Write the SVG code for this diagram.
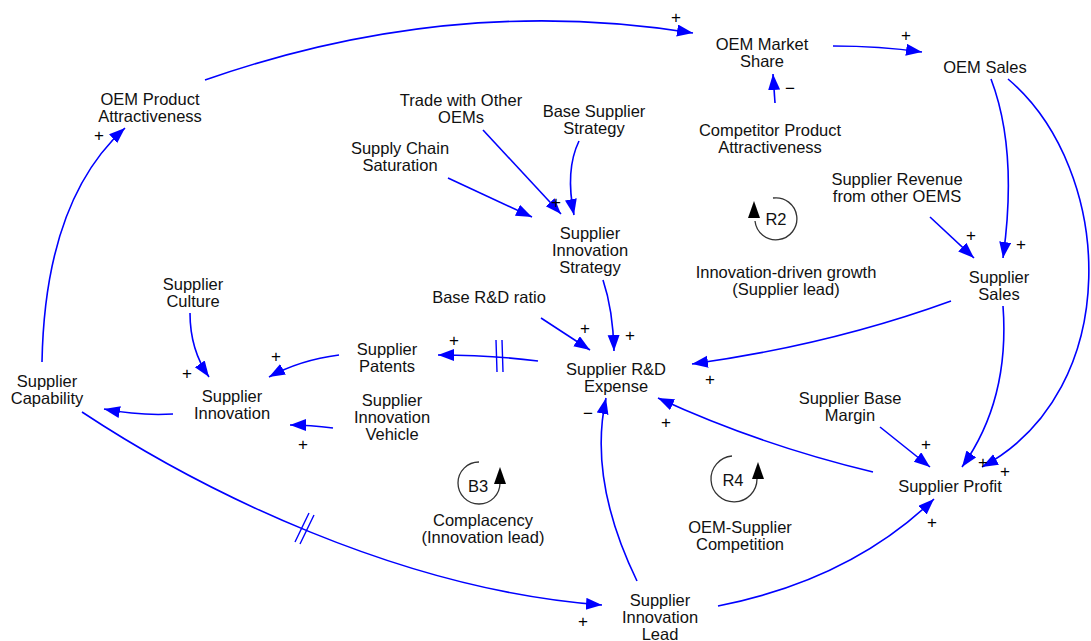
<svg xmlns="http://www.w3.org/2000/svg" width="1091" height="641" viewBox="0 0 1091 641">
  <style>
    text { font-family: "Liberation Sans", Arial, sans-serif; fill: #111; }
    .lbl { font-size: 16.5px; text-anchor: middle; }
    .sign { font-size: 17px; text-anchor: middle; fill: #000; }
    .link { fill: none; stroke: #0000ff; stroke-width: 1.6; marker-end: url(#arrow); }
    .hash { fill: none; stroke: #0000ff; stroke-width: 1.4; }
    .loop { fill: none; stroke: #333; stroke-width: 1.3; }
    .loophead { fill: #000; }
  </style>
  <defs>
    <marker id="arrow" markerUnits="userSpaceOnUse" markerWidth="18" markerHeight="14" refX="16" refY="6" orient="auto">
      <path d="M0,0 L16,6 L0,12 z" fill="#0000ff"/>
    </marker>
  </defs>
  <rect width="1091" height="641" fill="#fff"/>

  <!-- causal links -->
  <g id="connectors">
    <path class="link" d="M42,362 Q45,200 125,128"/>
    <path class="link" d="M205,80 Q451,-6 693,33"/>
    <path class="link" d="M833,46 Q880,46 922,52"/>
    <path class="link" d="M775,103 L773,74"/>
    <path class="link" d="M991,79 Q1018,150 1003,258"/>
    <path class="link" d="M1008,79 C1115,170 1125,390 982,467"/>
    <path class="link" d="M930,217 L974,258"/>
    <path class="link" d="M951,301 Q830,345 692,364"/>
    <path class="link" d="M1003,306 Q1010,400 962,467"/>
    <path class="link" d="M880,427 L930,467"/>
    <path class="link" d="M873,472 Q760,445 658,398"/>
    <path class="link" d="M718,606 Q850,580 934,499"/>
    <path class="link" d="M637,581 Q588,480 606,398"/>
    <path class="link" d="M82,412 C200,490 400,590 602,605"/>
    <path class="link" d="M538,361 Q490,355 438,355"/>
    <path class="link" d="M541,318 L590,350"/>
    <path class="link" d="M603,280 Q613,310 614,351"/>
    <path class="link" d="M448,178 L532,217"/>
    <path class="link" d="M483,130 L561,214"/>
    <path class="link" d="M579,141 Q565,170 574,215"/>
    <path class="link" d="M190,313 Q190,350 209,377"/>
    <path class="link" d="M339,355 Q300,360 269,377"/>
    <path class="link" d="M333,428 Q310,425 290,425"/>
    <path class="link" d="M173,414 Q140,416 104,409"/>
    <!-- delay marks -->
    <path class="hash" d="M496,340 L497,372 M502,340 L503,372"/>
    <path class="hash" d="M295,542 L309,513 M300,544 L314,515"/>
  </g>

  <!-- polarity signs -->
  <g id="signs">
    <text class="sign" x="99" y="141">+</text>
    <text class="sign" x="676" y="23">+</text>
    <text class="sign" x="906" y="41">+</text>
    <text class="sign" x="790" y="94">−</text>
    <text class="sign" x="1021" y="250">+</text>
    <text class="sign" x="971" y="241">+</text>
    <text class="sign" x="710" y="385">+</text>
    <text class="sign" x="983" y="468">+</text>
    <text class="sign" x="1005" y="477">+</text>
    <text class="sign" x="926" y="450">+</text>
    <text class="sign" x="666" y="428">+</text>
    <text class="sign" x="932" y="528">+</text>
    <text class="sign" x="588" y="419">−</text>
    <text class="sign" x="583" y="627">+</text>
    <text class="sign" x="454" y="346">+</text>
    <text class="sign" x="585" y="334">+</text>
    <text class="sign" x="630" y="341">+</text>
    <text class="sign" x="556" y="208">+</text>
    <text class="sign" x="187" y="379">+</text>
    <text class="sign" x="276" y="362">+</text>
    <text class="sign" x="303" y="450">+</text>
  </g>

  <!-- variables -->
  <g id="oem-product-attractiveness"><text class="lbl" x="150" y="105">OEM Product<tspan x="150" dy="17">Attractiveness</tspan></text></g>
  <g id="oem-market-share"><text class="lbl" x="762" y="50">OEM Market<tspan x="762" dy="17">Share</tspan></text></g>
  <g id="oem-sales"><text class="lbl" x="985" y="73">OEM Sales</text></g>
  <g id="competitor-product-attractiveness"><text class="lbl" x="770" y="136">Competitor Product<tspan x="770" dy="17">Attractiveness</tspan></text></g>
  <g id="supplier-revenue-other"><text class="lbl" x="897" y="185">Supplier Revenue<tspan x="897" dy="17">from other OEMS</tspan></text></g>
  <g id="trade-other-oems"><text class="lbl" x="461" y="106">Trade with Other<tspan x="461" dy="17">OEMs</tspan></text></g>
  <g id="base-supplier-strategy"><text class="lbl" x="594" y="117">Base Supplier<tspan x="594" dy="17">Strategy</tspan></text></g>
  <g id="supply-chain-saturation"><text class="lbl" x="400" y="154">Supply Chain<tspan x="400" dy="17">Saturation</tspan></text></g>
  <g id="supplier-innovation-strategy"><text class="lbl" x="590" y="239">Supplier<tspan x="590" dy="17">Innovation</tspan><tspan x="590" dy="17">Strategy</tspan></text></g>
  <g id="base-rd-ratio"><text class="lbl" x="489" y="303">Base R&amp;D ratio</text></g>
  <g id="supplier-rd-expense"><text class="lbl" x="616" y="375">Supplier R&amp;D<tspan x="616" dy="17">Expense</tspan></text></g>
  <g id="supplier-patents"><text class="lbl" x="387" y="355">Supplier<tspan x="387" dy="17">Patents</tspan></text></g>
  <g id="supplier-culture"><text class="lbl" x="193" y="290">Supplier<tspan x="193" dy="17">Culture</tspan></text></g>
  <g id="supplier-innovation"><text class="lbl" x="232" y="402">Supplier<tspan x="232" dy="17">Innovation</tspan></text></g>
  <g id="supplier-innovation-vehicle"><text class="lbl" x="392" y="406">Supplier<tspan x="392" dy="17">Innovation</tspan><tspan x="392" dy="17">Vehicle</tspan></text></g>
  <g id="supplier-capability"><text class="lbl" x="47" y="387">Supplier<tspan x="47" dy="17">Capability</tspan></text></g>
  <g id="supplier-sales"><text class="lbl" x="999" y="283">Supplier<tspan x="999" dy="17">Sales</tspan></text></g>
  <g id="supplier-base-margin"><text class="lbl" x="850" y="404">Supplier Base<tspan x="850" dy="17">Margin</tspan></text></g>
  <g id="supplier-profit"><text class="lbl" x="950" y="492">Supplier Profit</text></g>
  <g id="supplier-innovation-lead"><text class="lbl" x="660" y="606">Supplier<tspan x="660" dy="17">Innovation</tspan><tspan x="660" dy="17">Lead</tspan></text></g>

  <!-- feedback loop markers -->
  <g id="loop-r2">
    <path class="loop" d="M773,198 A21,21 0 1 1 755,221"/>
    <path class="loophead" d="M754,201 L748,218 L760,218 z"/>
    <text class="lbl" x="776" y="225">R2</text>
    <text class="lbl" x="786" y="278">Innovation-driven growth<tspan x="786" dy="17">(Supplier lead)</tspan></text>
  </g>
  <g id="loop-r4">
    <path class="loop" d="M732,456 A23,23 0 1 0 757,479"/>
    <path class="loophead" d="M758,462 L752,479 L764,479 z"/>
    <text class="lbl" x="733" y="486">R4</text>
    <text class="lbl" x="740" y="533">OEM-Supplier<tspan x="740" dy="17">Competition</tspan></text>
  </g>
  <g id="loop-b3">
    <path class="loop" d="M479,462 A21,21 0 1 0 500,483"/>
    <path class="loophead" d="M500,467 L494,484 L506,484 z"/>
    <text class="lbl" x="478" y="492">B3</text>
    <text class="lbl" x="483" y="526">Complacency<tspan x="483" dy="17">(Innovation lead)</tspan></text>
  </g>
</svg>
